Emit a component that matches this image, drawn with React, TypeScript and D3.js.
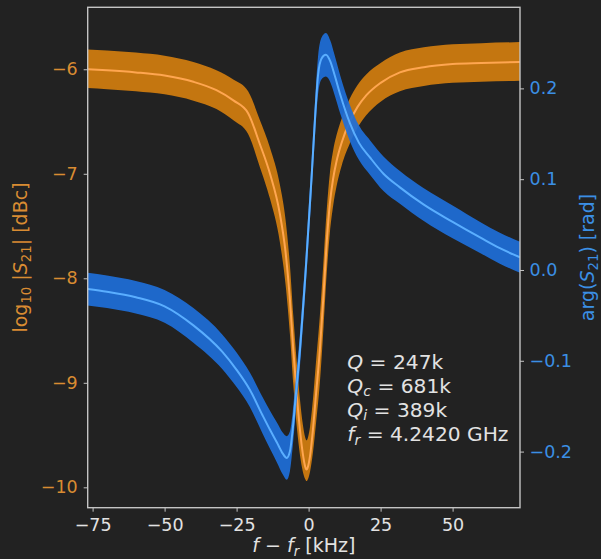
import React, { useEffect, useRef } from "react";
import * as d3 from "d3";

const width = 601;
const height = 559;
const plot = { left: 87.7, right: 520, top: 7.3, bottom: 507.7 };

const fontFamily = "'DejaVu Sans', sans-serif";
const fontSize = 17.5;
const labelSize = 19;
const noteSize = 20.2;

// tick values
const freqTicks = [-75, -50, -25, 0, 25, 50];
const magTicks = [-6, -7, -8, -9, -10];
const phaseTicks = [0.2, 0.1, 0.0, -0.1, -0.2];

// |S21| (left axis): fit line plus the spread of the measured trace
const magFreq = [
  -76.7, -70, -60, -50, -40, -32, -26, -21, -17, -13.4, -10, -8, -6.5, -5.3, -4, -3, -2, -1.2, -0.7,
  -0.2, 0.5, 1.5, 2.6, 3.9, 5.2, 6.3, 7.4, 8.5, 9.7, 11.5, 14.3, 17, 20, 25, 31.7, 40, 50, 60, 73.4,
];
const magFit = [
  -6.0, -6.01, -6.03, -6.06, -6.12, -6.2, -6.3, -6.42, -6.71, -7.0, -7.38, -7.75, -8.2, -8.69, -9.15,
  -9.45, -9.68, -9.8, -9.83, -9.8, -9.7, -9.45, -9.1, -8.69, -8.15, -7.65, -7.28, -7.05, -6.88, -6.7,
  -6.5, -6.36, -6.25, -6.13, -6.03, -5.98, -5.95, -5.94, -5.93,
];
const magUp = [
  0.19, 0.19, 0.19, 0.19, 0.19, 0.19, 0.2, 0.21, 0.23, 0.25, 0.28, 0.31, 0.33, 0.33, 0.31, 0.29, 0.28,
  0.28, 0.28, 0.28, 0.28, 0.29, 0.31, 0.33, 0.33, 0.31, 0.29, 0.27, 0.25, 0.23, 0.22, 0.21, 0.2, 0.19,
  0.19, 0.19, 0.19, 0.19, 0.19,
];
const magDown = [
  0.18, 0.18, 0.18, 0.18, 0.18, 0.18, 0.19, 0.2, 0.22, 0.24, 0.27, 0.31, 0.33, 0.33, 0.3, 0.24, 0.17,
  0.12, 0.11, 0.12, 0.15, 0.22, 0.28, 0.31, 0.31, 0.3, 0.28, 0.26, 0.24, 0.22, 0.21, 0.2, 0.19, 0.18,
  0.18, 0.18, 0.18, 0.18, 0.18,
];

// arg(S21) (right axis)
const phaseFreq = [
  -76.7, -70, -60, -50, -40, -30, -25, -20.4, -16, -13.4, -11, -9, -7.6, -6.5, -5.5, -4.5, -3, -2, -1,
  0, 1, 2, 3.3, 4.5, 6, 7.5, 9, 11, 14.3, 17.5, 21.3, 26, 31.7, 40, 50, 60, 66.4, 73.4,
];
const phaseFit = [
  -0.021, -0.024, -0.03, -0.04, -0.061, -0.09, -0.11, -0.132, -0.16, -0.176, -0.19, -0.202, -0.207,
  -0.2, -0.175, -0.14, -0.088, -0.045, 0.0, 0.05, 0.1, 0.155, 0.215, 0.233, 0.237, 0.23, 0.215, 0.193,
  0.162, 0.14, 0.124, 0.106, 0.091, 0.072, 0.053, 0.035, 0.024, 0.014,
];
const phaseSpread = [
  0.018, 0.018, 0.018, 0.018, 0.019, 0.019, 0.019, 0.019, 0.02, 0.021, 0.022, 0.023, 0.024, 0.022,
  0.019, 0.018, 0.018, 0.018, 0.018, 0.018, 0.018, 0.019, 0.021, 0.023, 0.024, 0.023, 0.022, 0.021,
  0.02, 0.019, 0.019, 0.019, 0.018, 0.018, 0.018, 0.017, 0.017, 0.017,
];

// fit results text
const paramSymbols = ["Q", "Q", "Q", "f"];
const paramSubs = ["", "c", "i", "r"];
const paramValues = ["247k", "681k", "389k", "4.2420 GHz"];

const colors = {
  bg: "#222222",
  spine: "#c4c4c4",
  text: "#e2e2e2",
  magBand: "#c47610",
  magLine: "#ffa650",
  magLabel: "#d98c32",
  phaseBand: "#1e6fd9",
  phaseLine: "#5aaeff",
  phaseLabel: "#3b8fe4",
};

const x = d3.scaleLinear().domain([-76.7, 73.4]).range([plot.left, plot.right]);
const yMag = d3.scaleLinear().domain([-10.195, -5.407]).range([plot.bottom, plot.top]);
const yPhase = d3.scaleLinear().domain([-0.2618, 0.2893]).range([plot.bottom, plot.top]);

const magIdx = d3.range(magFreq.length);
const phaseIdx = d3.range(phaseFreq.length);

const magArea = d3
  .area<number>()
  .x((i) => x(magFreq[i]))
  .y0((i) => yMag(magFit[i] - magDown[i]))
  .y1((i) => yMag(magFit[i] + magUp[i]))
  .curve(d3.curveMonotoneX);
const magLine = d3
  .line<number>()
  .x((i) => x(magFreq[i]))
  .y((i) => yMag(magFit[i]))
  .curve(d3.curveMonotoneX);
const phaseArea = d3
  .area<number>()
  .x((i) => x(phaseFreq[i]))
  .y0((i) => yPhase(phaseFit[i] - phaseSpread[i]))
  .y1((i) => yPhase(phaseFit[i] + phaseSpread[i]))
  .curve(d3.curveMonotoneX);
const phaseLine = d3
  .line<number>()
  .x((i) => x(phaseFreq[i]))
  .y((i) => yPhase(phaseFit[i]))
  .curve(d3.curveMonotoneX);

function styleAxis(g: any, color: string) {
  g.select(".domain").remove();
  g.selectAll(".tick line").attr("stroke", colors.spine).attr("stroke-width", 1);
  g.selectAll(".tick text")
    .attr("fill", color)
    .style("font-family", fontFamily)
    .style("font-size", `${fontSize}px`);
}

export default function App() {
  const xAxisRef = useRef<SVGGElement>(null);
  const yMagRef = useRef<SVGGElement>(null);
  const yPhaseRef = useRef<SVGGElement>(null);

  useEffect(() => {
    const xAxis = d3.axisBottom(x).tickValues(freqTicks).tickSize(4).tickPadding(6.5).tickFormat(d3.format("d"));
    const magAxis = d3.axisLeft(yMag).tickValues(magTicks).tickSize(4).tickPadding(6).tickFormat(d3.format("d"));
    const phAxis = d3
      .axisRight(yPhase)
      .tickValues(phaseTicks)
      .tickSize(4)
      .tickPadding(5.5)
      .tickFormat(d3.format(".1f"));

    d3.select(xAxisRef.current).call(xAxis as any).call(styleAxis, colors.text);
    d3.select(yMagRef.current).call(magAxis as any).call(styleAxis, colors.magLabel);
    d3.select(yPhaseRef.current).call(phAxis as any).call(styleAxis, colors.phaseLabel);
  }, []);

  const sub = (size: number) => ({ fontSize: size * 0.7 });
  const midY = (plot.top + plot.bottom) / 2;

  return (
    <svg
      width={width}
      height={height}
      style={{ position: "absolute", left: 0, top: 0, background: colors.bg }}
      fontFamily={fontFamily}
      fontSize={fontSize}
    >
      <rect width={width} height={height} fill={colors.bg} />
      <defs>
        <clipPath id="plotClip">
          <rect x={plot.left} y={plot.top} width={plot.right - plot.left} height={plot.bottom - plot.top} />
        </clipPath>
      </defs>

      <g clipPath="url(#plotClip)">
        <path d={magArea(magIdx) ?? ""} fill={colors.magBand} />
        <path d={magLine(magIdx) ?? ""} fill="none" stroke={colors.magLine} strokeWidth={2} />
        <path d={phaseArea(phaseIdx) ?? ""} fill={colors.phaseBand} opacity={0.92} />
        <path d={phaseLine(phaseIdx) ?? ""} fill="none" stroke={colors.phaseLine} strokeWidth={2} />
      </g>

      <rect
        x={plot.left}
        y={plot.top}
        width={plot.right - plot.left}
        height={plot.bottom - plot.top}
        fill="none"
        stroke={colors.spine}
        strokeWidth={1.4}
      />

      <g ref={xAxisRef} transform={`translate(0,${plot.bottom})`} />
      <g ref={yMagRef} transform={`translate(${plot.left},0)`} />
      <g ref={yPhaseRef} transform={`translate(${plot.right},0)`} />

      {/* fit parameters */}
      <g fill={colors.text} fontSize={noteSize}>
        {paramSymbols.map((s, i) => (
          <text key={i} x={347.3} y={368.5 + i * 24.2}>
            <tspan fontStyle="italic">{s}</tspan>
            {paramSubs[i] ? (
              <tspan fontStyle="italic" dy={3.5} style={sub(noteSize)}>
                {paramSubs[i]}
              </tspan>
            ) : null}
            <tspan dy={paramSubs[i] ? -3.5 : 0}>{" = "}</tspan>
            <tspan>{paramValues[i]}</tspan>
          </text>
        ))}
      </g>

      {/* axis labels */}
      <text x={(plot.left + plot.right) / 2} y={552} textAnchor="middle" fill={colors.text} fontSize={labelSize}>
        <tspan fontStyle="italic">f</tspan>
        <tspan>{" − "}</tspan>
        <tspan fontStyle="italic">f</tspan>
        <tspan fontStyle="italic" dy={4} style={sub(labelSize)}>
          r
        </tspan>
        <tspan dy={-4}>{" [kHz]"}</tspan>
      </text>

      <text
        transform={`translate(27,${midY}) rotate(-90)`}
        textAnchor="middle"
        fill={colors.magLabel}
        fontSize={labelSize}
      >
        <tspan>log</tspan>
        <tspan dy={4} style={sub(labelSize)}>
          10
        </tspan>
        <tspan dy={-4}>{" |"}</tspan>
        <tspan fontStyle="italic">S</tspan>
        <tspan dy={4} style={sub(labelSize)}>
          21
        </tspan>
        <tspan dy={-4}>{"| [dBc]"}</tspan>
      </text>

      <text
        transform={`translate(594,${midY}) rotate(-90)`}
        textAnchor="middle"
        fill={colors.phaseLabel}
        fontSize={labelSize}
      >
        <tspan>arg(</tspan>
        <tspan fontStyle="italic">S</tspan>
        <tspan dy={3.5} style={sub(labelSize)}>
          21
        </tspan>
        <tspan dy={-3.5}>{") [rad]"}</tspan>
      </text>
    </svg>
  );
}
